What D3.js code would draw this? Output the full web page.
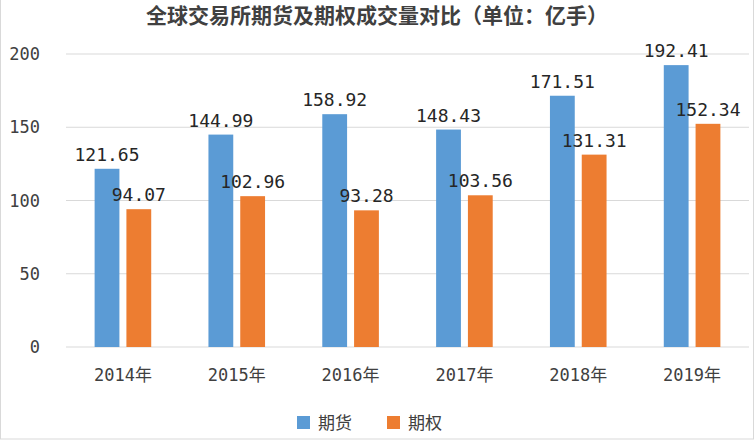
<!DOCTYPE html><html><head><meta charset="utf-8">
<script src="https://cdn.jsdelivr.net/npm/d3@7"></script>
<style>body{margin:0;background:#fff}</style></head><body><svg id="c" width="754" height="440"></svg>
<script>
const categories=["2014年","2015年","2016年","2017年","2018年","2019年"];
const futures=[121.65,144.99,158.92,148.43,171.51,192.41];
const options=[94.07,102.96,93.28,103.56,131.31,152.34];
const seriesNames=["期货","期权"];
const yTicks=[0,50,100,150,200];
const colors=["#5b9bd5","#ed7d31"];
const svg=d3.select("#c");
const font="'DejaVu Sans Mono','Noto Sans CJK SC',monospace";
svg.append("rect").attr("x",0.5).attr("y",-2).attr("width",753).attr("height",441).attr("fill","none").attr("stroke","#d9d9d9");
const x=d3.scaleBand().domain(categories).range([66,749]);
const y=d3.scaleLinear().domain([0,200]).range([347,54]);
svg.append("g").selectAll("line").data(yTicks).join("line").attr("x1",66).attr("x2",749)
 .attr("y1",d=>y(d)).attr("y2",d=>y(d)).attr("stroke","#d9d9d9");
svg.append("g").selectAll("text").data(yTicks).join("text").attr("x",40).attr("y",d=>y(d)+6)
 .attr("text-anchor","end").attr("font-family",font).attr("font-size",17).attr("fill","#404040").text(d=>d);
const sub=d3.scaleBand().domain([0,1]).range([0,x.bandwidth()]).paddingInner(0.22).paddingOuter(0.9);
[futures,options].forEach((arr,i)=>{
 const g=svg.append("g");
 g.selectAll("rect").data(arr).join("rect").attr("x",(d,j)=>x(categories[j])+sub(i)).attr("width",sub.bandwidth())
  .attr("y",d=>y(d)).attr("height",d=>y(0)-y(d)).attr("fill",colors[i]);
 g.selectAll("text").data(arr).join("text").attr("x",(d,j)=>x(categories[j])+sub(i)+sub.bandwidth()/2)
  .attr("y",d=>y(d)-8).attr("text-anchor","middle").attr("font-family",font).attr("font-size",18).attr("fill","#262626").text(d=>d.toFixed(2));
});
svg.append("g").selectAll("text").data(categories).join("text").attr("x",d=>x(d)+x.bandwidth()/2).attr("y",381)
 .attr("text-anchor","middle").attr("font-family",font).attr("font-size",17).attr("fill","#404040").text(d=>d);
svg.append("text").attr("x",377).attr("y",23).attr("text-anchor","middle").attr("font-family","'Noto Sans CJK SC'")
 .attr("font-weight","bold").attr("font-size",21).attr("fill","#404040").text("全球交易所期货及期权成交量对比（单位：亿手）");
seriesNames.forEach((n,i)=>{
 const lx=297+i*90;
 svg.append("rect").attr("x",lx).attr("y",416).attr("width",13).attr("height",13).attr("fill",colors[i]);
 svg.append("text").attr("x",lx+21).attr("y",429).attr("font-family","'Noto Sans CJK SC'").attr("font-size",17).attr("fill","#404040").text(n);
});
</script></body></html>
